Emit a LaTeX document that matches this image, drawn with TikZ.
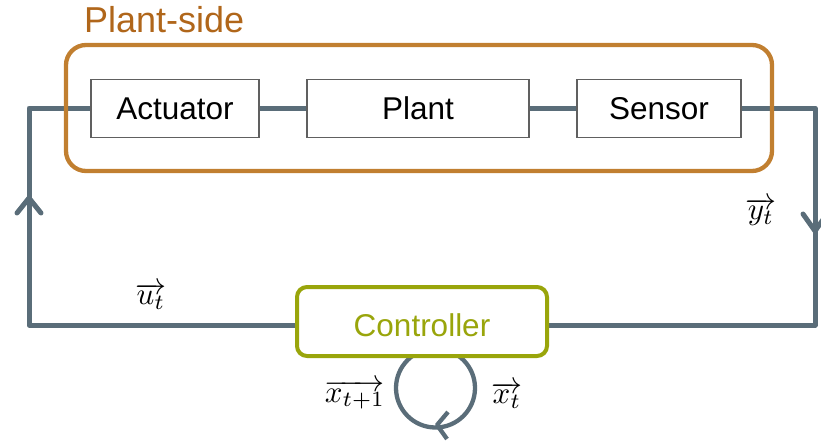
\documentclass[tikz,border=0pt]{standalone}
\usepackage{fontspec}
\setmainfont{Liberation Sans}
\usepackage{graphicx}
\usetikzlibrary{backgrounds}
\definecolor{wire}{HTML}{5A6D79}
\definecolor{plantline}{HTML}{C17F30}
\definecolor{planttext}{HTML}{B0661A}
\definecolor{ctrlgreen}{HTML}{99A50B}
\definecolor{boxedge}{HTML}{606060}
\newcommand{\sigvec}[1]{\scalebox{3.1}{$\overrightarrow{#1}$}}
\begin{document}
\begin{tikzpicture}[x=1pt,y=-1pt,
  block/.style={draw=boxedge, line width=1.5pt, fill=white, inner sep=0pt,
    text height=22pt, text depth=0pt, minimum height=58pt,
    font=\fontsize{31.5}{34}\selectfont},
  ctrlbox/.style={draw=ctrlgreen, fill=white, line width=4pt, rounded corners=10pt,
    minimum width=250pt, minimum height=69pt, inner sep=0pt},
  wireline/.style={draw=wire, line width=5pt, line join=round},
  chev/.style={draw=wire, line width=5pt, line cap=round, line join=round},
  vec/.style={inner sep=0pt}]
\useasboundingbox (0,0) rectangle (821,442);

% corners of the feedback loop
\coordinate (ul) at (29,108);
\coordinate (ll) at (29,325);
\coordinate (ur) at (815,108);
\coordinate (lr) at (815,325);

% the three plant-side blocks
\node[block, minimum width=168pt] (act) at (175,108.5) {Actuator};
\node[block, minimum width=222pt] (plant) at (418,108.5) {Plant};
\node[block, minimum width=164pt] (sens) at (659,108.5) {Sensor};

% controller box and its label
\node[ctrlbox] (ctrl) at (422,321.5) {};
\node[text=ctrlgreen, inner sep=0pt, text height=22pt, text depth=0pt,
  font=\fontsize{31.5}{34}\selectfont] (ctrltext) at (422,325) {Controller};

% wires and the state self-loop sit behind the boxes
\begin{pgfonlayer}{background}
\draw[wireline] (ctrl.west |- ll) -- (ll) -- (ul) -- (act.west |- ul);
\draw[wireline] (sens.east |- ur) -- (ur) -- (lr) -- (ctrl.east |- lr);
\draw[wireline] (act.east |- ul) -- (plant.west |- ul);
\draw[wireline] (plant.east |- ul) -- (sens.west |- ul);
\coordinate (loopc) at (435.5,388);
\draw[draw=wire, line width=4.3pt] (loopc) circle[radius=39.5pt];
\end{pgfonlayer}

% arrowheads on the loop
\coordinate (upTip) at (29,198);
\draw[chev] ([shift={(-12,15)}]upTip) -- (upTip) -- ([shift={(12,15)}]upTip);
\coordinate (downTip) at (815,231);
\draw[chev] ([shift={(-12,-17)}]downTip) -- (downTip) -- ([shift={(12,-17)}]downTip);
\coordinate (loopTip) at (437,425);
\draw[draw=wire, line width=4.3pt, line join=round]
  ([shift={(11,-13)}]loopTip) -- (loopTip) -- ([shift={(10,14)}]loopTip);

% plant-side grouping frame and its title
\node[draw=plantline, line width=4.3pt, rounded corners=20pt, inner sep=0pt,
  minimum width=706pt, minimum height=126pt] (group) at (419,108) {};
\node[anchor=base west, text=planttext, inner sep=0pt,
  font=\fontsize{36}{40}\selectfont] (grouptitle) at (84,32) {Plant-side};

% signal labels
\node[vec] (ulbl) at (151,296) {\sigvec{u_t}};
\node[vec] (ylbl) at (761,212) {\sigvec{y_t}};
\node[vec] (xnext) at (355,395) {\sigvec{x_{t+1}}};
\node[vec] (xcur) at (507,395) {\sigvec{x_t}};
\end{tikzpicture}
\end{document}
